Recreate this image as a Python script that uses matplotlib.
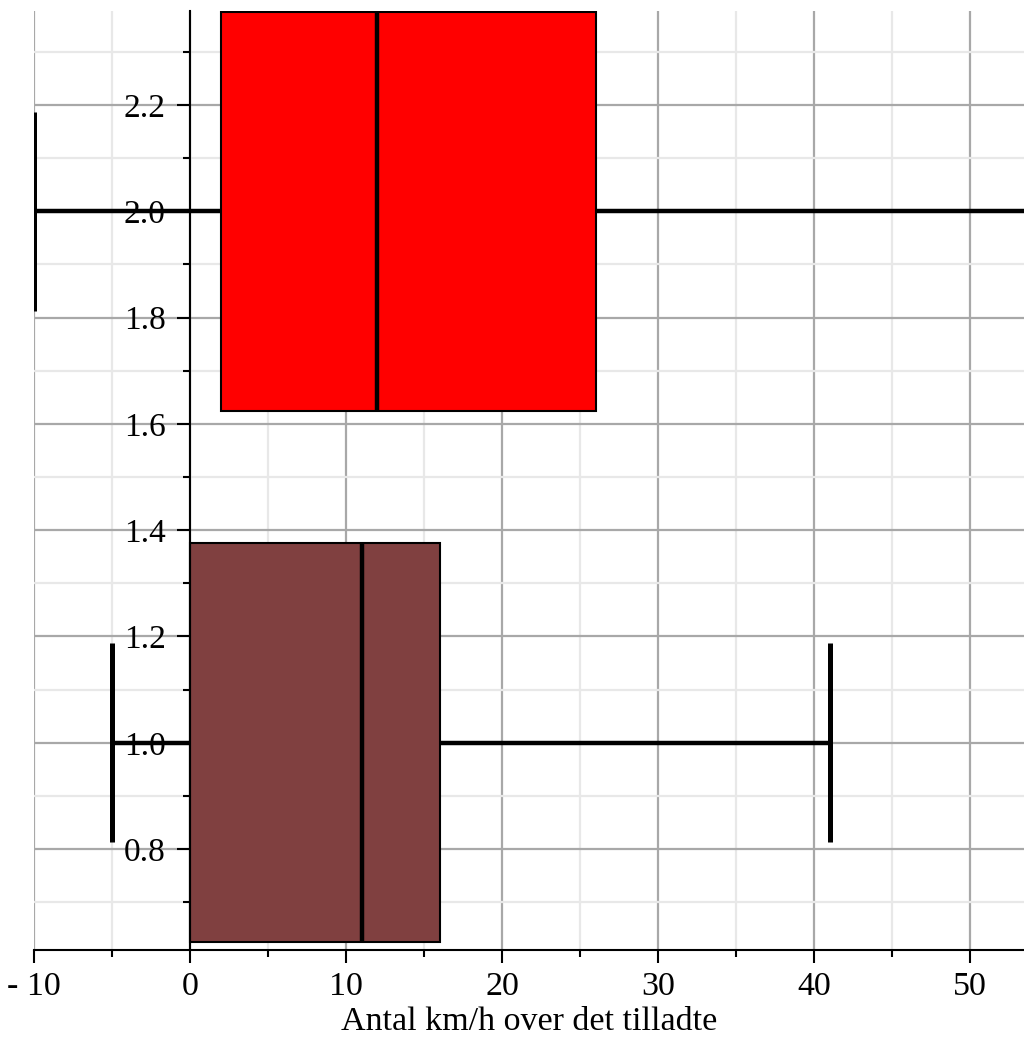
"""Horizontal boxplots: km/h over the speed limit."""
import matplotlib
matplotlib.use('Agg')
import matplotlib.pyplot as plt
from matplotlib.ticker import MultipleLocator

# box statistics
positions = [1, 2]
box_colors = ['#804040', '#ff0000']
whislo = [-5, -10]
q1 = [0, 2]
med = [11, 12]
q3 = [16, 26]
whishi = [41, 60]

x_ticks = [-10, 0, 10, 20, 30, 40, 50]
x_labels = ['- 10', '0', '10', '20', '30', '40', '50']
y_ticks = [0.8, 1.0, 1.2, 1.4, 1.6, 1.8, 2.0, 2.2]
y_labels = ['0.8', '1.0', '1.2', '1.4', '1.6', '1.8', '2.0', '2.2']
x_title = 'Antal km/h over det tilladte'

plt.rcParams['font.family'] = ['Liberation Serif', 'DejaVu Serif']

fig = plt.figure(figsize=(10.24, 10.42), dpi=100)
ax = fig.add_axes([34 / 1024, 92 / 1042, 990 / 1024, 939 / 1042])

stats = []
for i in range(len(positions)):
    stats.append({'whislo': whislo[i], 'q1': q1[i], 'med': med[i],
                  'q3': q3[i], 'whishi': whishi[i]})

bp = ax.bxp(stats, positions=positions, widths=0.75, capwidths=0.375,
            orientation='horizontal', patch_artist=True, showfliers=False,
            boxprops=dict(edgecolor='black', linewidth=1.5),
            medianprops=dict(color='black', linewidth=3.2),
            whiskerprops=dict(color='black', linewidth=3.2, solid_capstyle='butt'),
            capprops=dict(color='black', linewidth=3.6, solid_capstyle='butt'),
            manage_ticks=False)
for patch, c in zip(bp['boxes'], box_colors):
    patch.set_facecolor(c)

ax.set_xlim(-10, 53.46)
ax.set_ylim(0.610, 2.377)

ax.set_xticks(x_ticks)
ax.set_xticklabels(x_labels)
ax.set_yticks(y_ticks)
ax.set_yticklabels(y_labels)
ax.xaxis.set_minor_locator(MultipleLocator(5))
ax.yaxis.set_minor_locator(MultipleLocator(0.1))

ax.set_axisbelow(True)
ax.grid(which='major', color='#a8a8a8', linewidth=1.6)
ax.grid(which='minor', color='#e8e8e8', linewidth=1.6)

for s in ['top', 'right']:
    ax.spines[s].set_visible(False)
ax.spines['left'].set_position(('data', 0))
ax.spines['left'].set_linewidth(1.5)
ax.spines['bottom'].set_linewidth(1.5)

ax.tick_params(which='major', length=9.5, width=1.5, labelsize=24.5, pad=6)
ax.tick_params(which='minor', length=5, width=1.5)
ax.tick_params(axis='y', which='major', labelsize=24, pad=8)

ax.set_xlabel(x_title, fontsize=24.5, labelpad=3)

fig.savefig('out.png', dpi=100)
